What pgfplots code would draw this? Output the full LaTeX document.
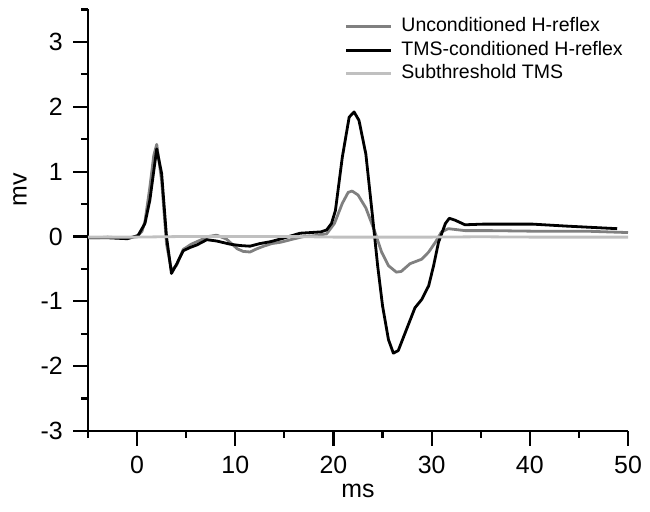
\documentclass[border=0pt]{standalone}
\usepackage{fontspec}
\setmainfont{Liberation Sans}
\usepackage{pgfplots}
\pgfplotsset{compat=1.18}
\definecolor{uncond}{RGB}{128,128,128}
\definecolor{subth}{RGB}{192,192,192}
\begin{document}
\begin{tikzpicture}
\begin{axis}[
  scale only axis,
  width=540bp, height=421.5bp,
  xmin=-5, xmax=50, ymin=-3, ymax=3.5,
  axis lines*=left,
  axis line style={line width=2.2bp, black},
  tick align=outside,
  major tick length=14.7bp,
  minor tick length=7bp,
  every tick/.style={line width=2.2bp, black},
  xtick={0,10,20,30,40,50},
  xticklabels={0,10,20,30,40,50},
  minor xtick={-5,5,15,25,35,45},
  ytick={-3,-2,-1,0,1,2,3},
  yticklabels={-3,-2,-1,0,1,2,3},
  minor ytick={-2.5,-1.5,-0.5,0.5,1.5,2.5,3.5},
  tick label style={font=\fontsize{25}{29}\selectfont},
  yticklabel style={xshift=-7bp},
  xticklabel style={yshift=-7bp},
  xlabel={ms}, ylabel={mv},
  label style={font=\fontsize{25}{29}\selectfont},
  xlabel style={at={(rel axis cs:0.5,0)}, anchor=center, yshift=-60bp},
  ylabel style={at={(rel axis cs:0,0.572)}, anchor=center, yshift=68bp},
  legend style={at={(rel axis cs:1,1)}, anchor=north east, draw=none, fill=none,
    inner sep=0pt, row sep=5.5bp, font=\fontsize{19.6}{23.5}\selectfont,
    nodes={inner sep=0pt, text height=14bp, text depth=4bp},
    /tikz/every odd column/.append style={column sep=9bp},
    xshift=-5bp, yshift=-8bp},
  legend cell align=left,
  legend image code/.code={\draw[#1] (0bp,0bp) -- (45bp,0bp);},
  every axis plot/.append style={line width=2.8bp, line join=round},
]
\addplot[uncond] coordinates {
(-5,-0.02) (-4,-0.02) (-3,-0.01) (-2,-0.02) (-1,-0.03) (0,0.0) (0.5,0.08)
(0.8,0.23) (1.3,0.76) (1.7,1.25) (2.0,1.42) (2.5,0.86) (3.0,-0.12) (3.5,-0.52)
(4.0,-0.45) (4.7,-0.2) (5.5,-0.12) (6.4,-0.06) (7.3,0.0) (8.1,0.02) (9.1,-0.04)
(10.2,-0.19) (10.8,-0.23) (11.5,-0.24) (12.2,-0.19) (12.9,-0.15) (13.7,-0.11)
(14.6,-0.09) (15.9,-0.04) (17,0.0) (18,0.01) (19.3,0.04) (20.1,0.2) (20.9,0.51)
(21.5,0.68) (21.9,0.7) (22.5,0.64) (23.3,0.44) (24.2,0.08) (24.9,-0.24)
(25.6,-0.45) (26.4,-0.55) (26.9,-0.54) (27.8,-0.42) (29.0,-0.35) (29.7,-0.24)
(30.4,-0.085) (31.0,0.07) (31.7,0.12) (33.4,0.09) (36,0.09) (41,0.08) (46,0.08) (50,0.06)
};
\addlegendentry{Unconditioned H-reflex}
\addplot[black] coordinates {
(-5,-0.02) (-3,-0.02) (-1,-0.035) (0.1,0.015) (0.8,0.2) (1.3,0.56) (2.0,1.35)
(2.5,0.97) (3.0,-0.01) (3.5,-0.57) (4.05,-0.42) (4.7,-0.22) (5.4,-0.17)
(6.1,-0.13) (7.1,-0.05) (8.1,-0.07) (9.5,-0.12) (10.5,-0.14) (11.5,-0.15)
(12.5,-0.11) (13.6,-0.08) (14.6,-0.04) (15.6,0.005) (16.6,0.05) (18.7,0.07)
(19.3,0.1) (19.8,0.2) (20.2,0.4) (20.9,1.22) (21.6,1.84) (22.1,1.92) (22.6,1.79)
(23.3,1.27) (24.0,0.28) (24.5,-0.45) (25.0,-1.07) (25.6,-1.59) (26.1,-1.8)
(26.6,-1.76) (27.5,-1.41) (28.3,-1.10) (29.0,-0.97) (29.7,-0.76) (30.2,-0.45)
(30.7,-0.09) (31.4,0.2) (31.8,0.28) (32.4,0.25) (33.4,0.18) (35.2,0.19)
(40.3,0.19) (43.7,0.16) (48.9,0.12)
};
\addlegendentry{TMS-conditioned H-reflex}
\addplot[subth] coordinates {
(-5,-0.01) (0,-0.01) (5,0.0) (10,0.0) (15,0.0) (20,-0.01) (25,-0.01) (30,-0.01) (35,-0.005) (40,-0.01) (45,-0.01) (50,-0.01)
};
\addlegendentry{Subthreshold TMS}
\end{axis}
\path ([xshift=-88bp,yshift=-81bp]current axis.south west) rectangle ([xshift=22bp,yshift=9.5bp]current axis.north east);
\end{tikzpicture}
\end{document}
